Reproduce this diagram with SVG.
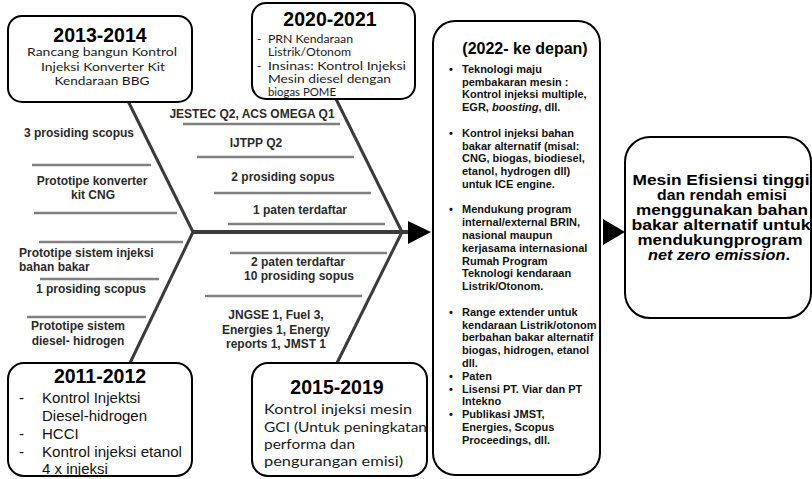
<svg xmlns="http://www.w3.org/2000/svg" width="812" height="479" viewBox="0 0 812 479">
<style>
.box{fill:#fff;stroke:#000;stroke-width:2}
.yr{font-family:"Liberation Sans",Arial,sans-serif;font-weight:bold;font-size:19.5px;fill:#000;text-anchor:middle}
.cal{font-family:Lato,"Open Sans",sans-serif;fill:#1a1a1a}
.reg{font-family:"Liberation Sans",Arial,sans-serif;font-size:15px;fill:#111}
.lbl{font-family:"Liberation Sans",Arial,sans-serif;font-weight:bold;font-size:12px;fill:#2a2a2a;text-anchor:middle}
.lbls{font-family:"Liberation Sans",Arial,sans-serif;font-weight:bold;font-size:12px;fill:#2a2a2a}
.bt{font-family:"Liberation Sans",Arial,sans-serif;font-weight:bold;font-size:11px;fill:#111}
.fin{font-family:"Liberation Sans",Arial,sans-serif;font-weight:bold;font-size:14.5px;fill:#000;text-anchor:middle}
.bone{stroke:#808080;stroke-width:2.5;fill:none}
.arm{stroke:#3a3a3a;stroke-width:3;fill:none}
</style>
<g id="connectors">
<line class="arm" x1="128" y1="101" x2="193" y2="232"/>
<line class="arm" x1="193" y1="232" x2="130" y2="363"/>
<line class="arm" x1="336" y1="99" x2="402" y2="232"/>
<line class="arm" x1="402" y1="232" x2="337" y2="363"/>
<line x1="193" y1="232" x2="410" y2="232" stroke="#3a3a3a" stroke-width="4"/>
<polygon points="408,221 408,244 431,232" fill="#000"/>
<polygon points="603,219 603,245 625,232" fill="#000"/>
<line class="bone" x1="32" y1="165" x2="151" y2="165"/>
<line class="bone" x1="34" y1="213" x2="177" y2="213"/>
<line class="bone" x1="39" y1="242" x2="183" y2="242"/>
<line class="bone" x1="40" y1="279" x2="159" y2="279"/>
<line class="bone" x1="27" y1="317" x2="146" y2="317"/>
<line class="bone" x1="183" y1="124" x2="340" y2="124"/>
<line class="bone" x1="197" y1="157" x2="354" y2="157"/>
<line class="bone" x1="214" y1="193" x2="371" y2="193"/>
<line class="bone" x1="228" y1="224" x2="385" y2="224"/>
<line class="bone" x1="230" y1="253" x2="387" y2="253"/>
<line class="bone" x1="205" y1="296" x2="362" y2="296"/>
</g>
<g id="labels-left">
<text class="lbl" x="79" y="137">3 prosiding scopus</text>
<text class="lbl" x="92" y="185">Prototipe konverter</text>
<text class="lbl" x="93" y="199">kit CNG</text>
<text class="lbls" x="19" y="257">Prototipe sistem injeksi</text>
<text class="lbls" x="19" y="271">bahan bakar</text>
<text class="lbl" x="91" y="293">1 prosiding scopus</text>
<text class="lbl" x="78" y="330">Prototipe sistem</text>
<text class="lbl" x="78" y="345">diesel- hidrogen</text>
</g>
<g id="labels-middle">
<text class="lbl" x="252" y="118">JESTEC Q2, ACS OMEGA Q1</text>
<text class="lbl" x="256" y="147">IJTPP Q2</text>
<text class="lbl" x="283" y="181">2 prosiding sopus</text>
<text class="lbl" x="300" y="214">1 paten terdaftar</text>
<text class="lbl" x="298" y="266">2 paten terdaftar</text>
<text class="lbl" x="299" y="280">10 prosiding sopus</text>
<text class="lbl" x="276" y="319">JNGSE 1, Fuel 3,</text>
<text class="lbl" x="276" y="334">Energies 1, Energy</text>
<text class="lbl" x="276" y="348">reports 1, JMST 1</text>
</g>
<g id="node-2013-2014">
<rect class="box" x="8" y="16" width="184" height="86" rx="14"/>
<text class="yr" x="100" y="42">2013-2014</text>
<g class="cal" font-size="11.5" text-anchor="middle">
<text x="102" y="56" textLength="150" lengthAdjust="spacingAndGlyphs">Rancang bangun Kontrol</text>
<text x="103" y="70.5" textLength="124" lengthAdjust="spacingAndGlyphs">Injeksi Konverter Kit</text>
<text x="102" y="85" textLength="95" lengthAdjust="spacingAndGlyphs">Kendaraan BBG</text>
</g>
</g>
<g id="node-2020-2021">
<rect class="box" x="252" y="3" width="163" height="96" rx="14"/>
<text class="yr" x="330" y="26">2020-2021</text>
<g class="cal" font-size="11.5">
<text x="257" y="43">-</text>
<text x="268" y="43" textLength="85" lengthAdjust="spacingAndGlyphs">PRN Kendaraan</text>
<text x="268" y="56" textLength="83" lengthAdjust="spacingAndGlyphs">Listrik/Otonom</text>
<text x="257" y="70">-</text>
<text x="268" y="70" textLength="138" lengthAdjust="spacingAndGlyphs">Insinas: Kontrol Injeksi</text>
<text x="268" y="83" textLength="123" lengthAdjust="spacingAndGlyphs">Mesin diesel dengan</text>
<text x="268" y="96" textLength="68" lengthAdjust="spacingAndGlyphs">biogas POME</text>
</g>
</g>
<g id="node-2011-2012">
<rect class="box" x="8" y="363" width="184" height="113" rx="16"/>
<text class="yr" x="100" y="383">2011-2012</text>
<g class="reg">
<text x="19" y="403">-</text>
<text x="42" y="403">Kontrol Injektsi</text>
<text x="42" y="421">Diesel-hidrogen</text>
<text x="19" y="439">-</text>
<text x="42" y="439">HCCI</text>
<text x="19" y="457">-</text>
<text x="42" y="457" textLength="140" lengthAdjust="spacingAndGlyphs">Kontrol injeksi etanol</text>
<text x="42" y="474">4 x injeksi</text>
</g>
</g>
<g id="node-2015-2019">
<rect class="box" x="252" y="363" width="175" height="113" rx="16"/>
<text class="yr" x="337" y="394">2015-2019</text>
<g class="cal" font-size="14">
<text x="264" y="414" textLength="148" lengthAdjust="spacingAndGlyphs">Kontrol injeksi mesin</text>
<text x="264" y="432" textLength="163" lengthAdjust="spacingAndGlyphs">GCI (Untuk peningkatan</text>
<text x="264" y="449" textLength="91" lengthAdjust="spacingAndGlyphs">performa dan</text>
<text x="264" y="466" textLength="139" lengthAdjust="spacingAndGlyphs">pengurangan emisi)</text>
</g>
</g>
<g id="node-2022">
<rect class="box" x="433" y="21" width="167" height="454" rx="22"/>
<text x="525" y="54" font-family="Liberation Sans, Arial, sans-serif" font-weight="bold" font-size="16" text-anchor="middle">(2022- ke depan)</text>
<g class="bt">
<text x="449" y="73">•</text>
<text x="462" y="73">Teknologi maju</text>
<text x="462" y="86">pembakaran mesin :</text>
<text x="462" y="98">Kontrol injeksi multiple,</text>
<text x="462" y="111">EGR, <tspan font-style="italic">boosting</tspan>, dll.</text>
<text x="449" y="137">•</text>
<text x="462" y="137">Kontrol injeksi bahan</text>
<text x="462" y="150">bakar alternatif (misal:</text>
<text x="462" y="162">CNG, biogas, biodiesel,</text>
<text x="462" y="175">etanol, hydrogen dll)</text>
<text x="462" y="188">untuk ICE engine.</text>
<text x="449" y="213">•</text>
<text x="462" y="213">Mendukung program</text>
<text x="462" y="226">internal/external BRIN,</text>
<text x="462" y="239">nasional maupun</text>
<text x="462" y="252">kerjasama internasional</text>
<text x="462" y="265">Rumah Program</text>
<text x="462" y="277">Teknologi kendaraan</text>
<text x="462" y="290">Listrik/Otonom.</text>
<text x="449" y="316">•</text>
<text x="462" y="316">Range extender untuk</text>
<text x="462" y="329">kendaraan Listrik/otonom</text>
<text x="462" y="341">berbahan bakar alternatif</text>
<text x="462" y="354">biogas, hidrogen, etanol</text>
<text x="462" y="367">dll.</text>
<text x="449" y="380">•</text>
<text x="462" y="380">Paten</text>
<text x="449" y="393">•</text>
<text x="462" y="393">Lisensi PT. Viar dan PT</text>
<text x="462" y="405">Intekno</text>
<text x="449" y="418">•</text>
<text x="462" y="418">Publikasi JMST,</text>
<text x="462" y="431">Energies, Scopus</text>
<text x="462" y="444">Proceedings, dll.</text>
</g>
</g>
<g id="node-goal">
<rect class="box" x="625" y="137" width="186" height="181" rx="25"/>
<text class="fin" x="721" y="185" textLength="177" lengthAdjust="spacingAndGlyphs">Mesin Efisiensi tinggi</text>
<text class="fin" x="722" y="200" textLength="130" lengthAdjust="spacingAndGlyphs">dan rendah emisi</text>
<text class="fin" x="722" y="215" textLength="172" lengthAdjust="spacingAndGlyphs">menggunakan bahan</text>
<text class="fin" x="721" y="230" textLength="179" lengthAdjust="spacingAndGlyphs">bakar alternatif untuk</text>
<text class="fin" x="720" y="245" textLength="165" lengthAdjust="spacingAndGlyphs">mendukungprogram</text>
<text class="fin" x="719" y="260" textLength="142" lengthAdjust="spacingAndGlyphs"><tspan font-style="italic">net zero emission</tspan>.</text>
</g>
</svg>
